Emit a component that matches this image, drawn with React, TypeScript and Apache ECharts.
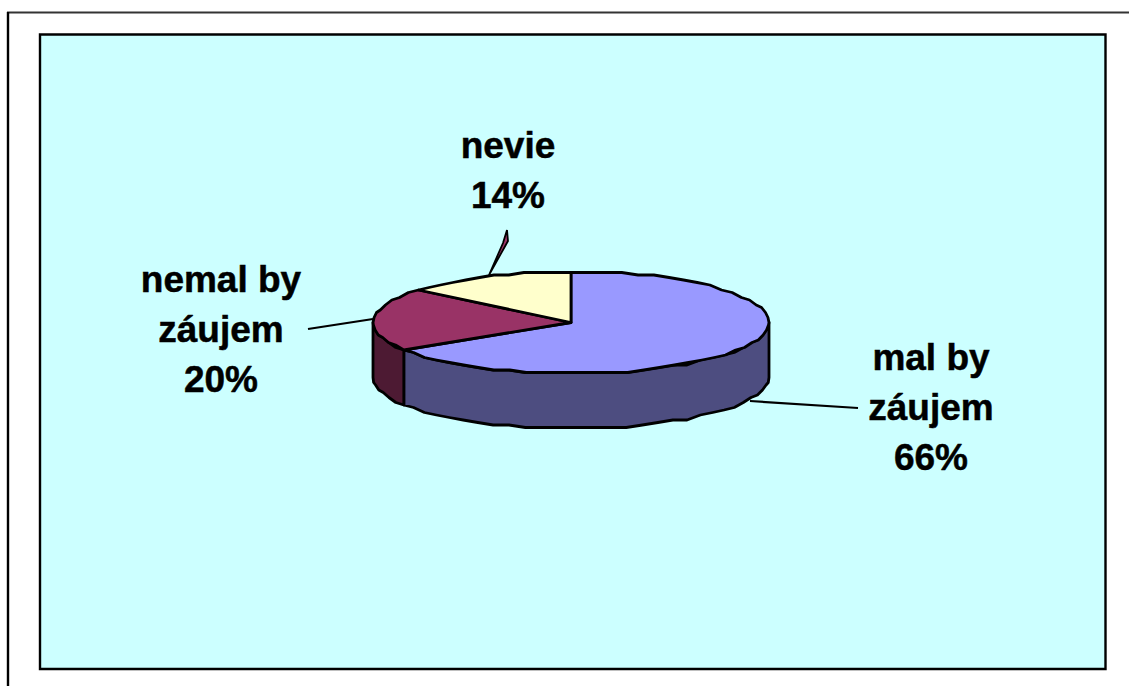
import React, { useEffect, useRef } from "react";
import * as echarts from "echarts";

const categories = ["mal by\nzáujem", "nemal by\nzáujem", "nevie"];
const shares = [66, 20, 14];
const percentLabels = ["66%", "20%", "14%"];

const topColors = ["#9999FF", "#993366", "#FFFFCC"];
const sideColors = ["#4D4D80", "#4D1A33", "#808066"];

const CX = 571;
const CY = 322.5;
const RX = 198;
const RY = 51;
const DEPTH = 55;
const FONT = '"Liberation Sans", Arial, sans-serif';

const labelPos = [
  [931, 407],
  [221, 329],
  [508, 170],
];

const pt = (deg: number, dy = 0) => {
  const t = (deg * Math.PI) / 180;
  return [CX + RX * Math.sin(t), Math.round((CY - RY * Math.cos(t)) / 2.5) * 2.5 + dy];
};

const arcPoints = (a0: number, a1: number, dy = 0) => {
  const out: number[][] = [];
  const n = Math.max(1, Math.ceil((a1 - a0) / 5));
  for (let i = 0; i <= n; i++) out.push(pt(a0 + ((a1 - a0) * i) / n, dy));
  return out;
};

const renderSlice = (params: any, api: any) => {
  const i = params.dataIndex;
  const value = api.value(0);
  const before = api.value(1);
  const a0 = (before / 100) * 360;
  const a1 = ((before + value) / 100) * 360;
  const children: any[] = [];
  const stroke = { stroke: "#000", lineWidth: 2.8, lineJoin: "round" };

  const s0 = Math.max(a0, 90);
  const s1 = Math.min(a1, 270);
  if (s1 > s0) {
    const upper = arcPoints(s0, s1);
    const lower = arcPoints(s0, s1, DEPTH).reverse();
    children.push({
      type: "polygon",
      shape: { points: [...upper, ...lower] },
      style: { fill: sideColors[i], ...stroke },
    });
  }
  children.push({
    type: "polygon",
    shape: { points: [[CX, CY], ...arcPoints(a0, a1)] },
    style: { fill: topColors[i], ...stroke },
  });
  children.push({
    type: "text",
    style: {
      x: labelPos[i][0],
      y: labelPos[i][1],
      text: `${categories[i]}\n${percentLabels[i]}`,
      fill: "#000",
      stroke: "#000",
      lineWidth: 0.5,
      font: `bold 37px ${FONT}`,
      lineHeight: 50,
      align: "center",
      verticalAlign: "middle",
    },
  });
  return { type: "group", children };
};

export default function App() {
  const ref = useRef<HTMLDivElement>(null);
  useEffect(() => {
    document.body.style.margin = "0";
    const chart = echarts.init(ref.current!, undefined, { renderer: "svg" });
    let acc = 0;
    const data = shares.map((v) => {
      const row = [v, acc];
      acc += v;
      return row;
    });
    chart.setOption({
      animation: false,
      backgroundColor: "#FFFFFF",
      graphic: [
        { type: "line", z: 0, shape: { x1: 7, y1: 12.5, x2: 1129, y2: 12.5 }, style: { stroke: "#333", lineWidth: 2 } },
        { type: "line", z: 0, shape: { x1: 8, y1: 12, x2: 8, y2: 686 }, style: { stroke: "#000", lineWidth: 2.4 } },
        { type: "rect", z: 0, shape: { x: 40, y: 34.5, width: 1065.5, height: 634.5 }, style: { fill: "#CCFFFF", stroke: "#000", lineWidth: 2.4 } },
        { type: "line", z: 10, shape: { x1: 750, y1: 401, x2: 858, y2: 408 }, style: { stroke: "#000", lineWidth: 2.2 } },
        { type: "line", z: 10, shape: { x1: 308, y1: 329, x2: 373, y2: 319 }, style: { stroke: "#000", lineWidth: 2.2 } },
        { type: "polygon", z: 10, shape: { points: [[489, 275], [503, 243], [507, 230], [508, 241]] }, style: { fill: "#993366", stroke: "#000", lineWidth: 1.8 } },
      ],
      series: [
        {
          type: "custom",
          coordinateSystem: "none",
          renderItem: renderSlice,
          data,
          z: 5,
          silent: true,
        },
      ],
    });
    return () => chart.dispose();
  }, []);
  return <div ref={ref} style={{ position: "absolute", left: 0, top: 0, width: 1129, height: 686 }} />;
}
